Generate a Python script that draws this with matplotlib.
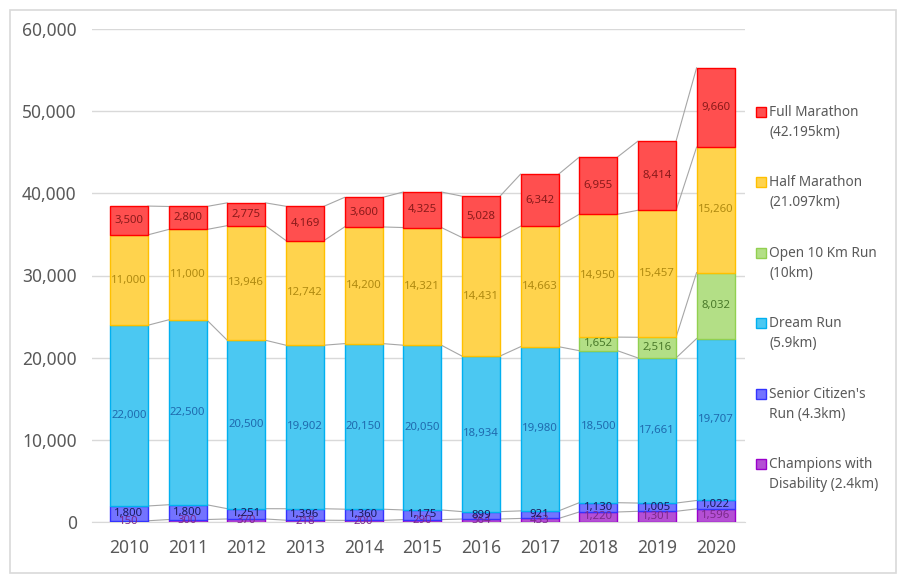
import matplotlib
matplotlib.use("Agg")
import matplotlib.pyplot as plt
from matplotlib.patches import Rectangle
import numpy as np

years = ["2010", "2011", "2012", "2013", "2014", "2015", "2016", "2017", "2018", "2019", "2020"]
champions = [150, 300, 370, 218, 200, 290, 364, 433, 1220, 1301, 1596]
senior = [1800, 1800, 1251, 1396, 1360, 1175, 899, 921, 1130, 1005, 1022]
dream = [22000, 22500, 20500, 19902, 20150, 20050, 18934, 19980, 18500, 17661, 19707]
open10 = [0, 0, 0, 0, 0, 0, 0, 0, 1652, 2516, 8032]
half = [11000, 11000, 13946, 12742, 14200, 14321, 14431, 14663, 14950, 15457, 15260]
full = [3500, 2800, 2775, 4169, 3600, 4325, 5028, 6342, 6955, 8414, 9660]

series_names = ["Champions with\nDisability (2.4km)", "Senior Citizen's\nRun (4.3km)",
                "Dream Run\n(5.9km)", "Open 10 Km Run\n(10km)",
                "Half Marathon\n(21.097km)", "Full Marathon\n(42.195km)"]
series = [champions, senior, dream, open10, half, full]
fills = ["#B44FD4", "#7373FF", "#4BC8F2", "#B3DF86", "#FFD34D", "#FF4F4F"]
edges = ["#9A00CC", "#3333FF", "#00B0F0", "#92D050", "#FFC000", "#FF0000"]
lblcol = ["#7A2A8A", "#1A1A5A", "#1F6AAE", "#4A7A2A", "#B08A10", "#8A1A1A"]

plt.rcParams['font.family'] = ['Noto Sans', 'DejaVu Sans']

W, H = 907, 582
fig = plt.figure(figsize=(W / 100, H / 100), dpi=100)
ax = fig.add_axes([92 / W, 60 / H, (745 - 92) / W, (522 - 29) / H])

x = np.arange(len(years))
w = 0.65
bottom = np.zeros(len(years))
tops = []
for vals, fc, ec, lc in zip(series, fills, edges, lblcol):
    v = np.array(vals, dtype=float)
    ax.bar(x, v, w, bottom=bottom, color=fc, edgecolor=ec, linewidth=1.0, zorder=3)
    for i in range(len(x)):
        if v[i] > 0:
            ax.text(x[i], bottom[i] + v[i] / 2, f"{int(v[i]):,}", ha="center", va="center",
                    fontsize=8.2, color=lc, zorder=5)
    bottom = bottom + v
    tops.append((v.copy(), bottom.copy()))

# series lines
for v, top in tops:
    for i in range(len(x) - 1):
        if v[i] > 0 and v[i + 1] > 0:
            ax.plot([x[i] + w / 2, x[i + 1] - w / 2], [top[i], top[i + 1]],
                    color="#A6A6A6", lw=0.8, zorder=2)

ax.set_xlim(-0.63, 10.5)
ax.set_ylim(0, 60000)
ax.set_yticks(np.arange(0, 60001, 10000))
ax.set_yticklabels([f"{t:,}" for t in range(0, 60001, 10000)])
ax.set_xticks(x)
ax.set_xticklabels(years)
ax.grid(axis="y", color="#D9D9D9", lw=1.0, zorder=0)
ax.set_axisbelow(True)
for s in ["top", "right", "left"]:
    ax.spines[s].set_visible(False)
ax.spines["bottom"].set_color("#D9D9D9")
ax.tick_params(axis="both", length=0, labelsize=12.5, colors="#595959")
ax.tick_params(axis="x", pad=12)
ax.tick_params(axis="y", pad=11)

# legend (manual, top item = Full Marathon)
for k, (name, fc, ec) in enumerate(zip(series_names[::-1], fills[::-1], edges[::-1])):
    yc = 112 + 70.4 * k
    fig.patches.append(Rectangle((756 / W, 1 - (yc + 5) / H), 10 / W, 10 / H,
                                 transform=fig.transFigure, facecolor=fc, edgecolor=ec, lw=1.0))
    fig.text(769 / W, 1 - (yc - 7) / H, name, ha="left", va="top", fontsize=9.8,
             color="#595959", linespacing=1.45)

fig.patches.append(Rectangle((10 / W, 9 / H), 886 / W, 563 / H, transform=fig.transFigure,
                             fill=False, edgecolor="#D9D9D9", lw=1.2))

fig.savefig("out.png", dpi=100)
